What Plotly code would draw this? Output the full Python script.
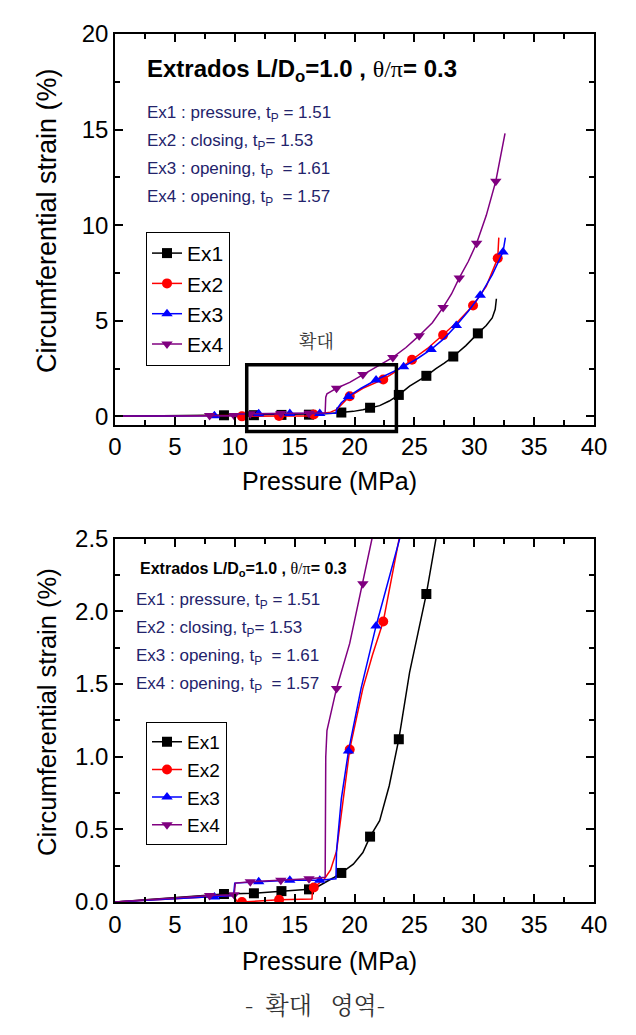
import plotly.graph_objects as go

# ---------------- data ----------------
series_names = ["Ex1", "Ex2", "Ex3", "Ex4"]
series_colors = ["#000000", "#ff0000", "#0000ff", "#800080"]
series_symbols = ["square", "circle", "triangle-up", "triangle-down"]

# continuous curves (pressure MPa, strain %)
ex1_line_x = [0, 9.1, 11.6, 13.9, 16.2, 16.8, 17.5, 18.2, 18.9, 19.9, 20.7, 21.3, 22.1, 22.9, 23.7,
              24.6, 25.3, 26.0, 26.8, 27.5, 28.25, 29.3, 30.3, 31.0, 31.5, 31.75, 31.85]
ex1_line_y = [0, 0.055, 0.06, 0.075, 0.087, 0.1, 0.13, 0.165, 0.2, 0.26, 0.34, 0.45, 0.56, 0.8, 1.12,
              1.58, 1.85, 2.12, 2.5, 2.78, 3.13, 3.7, 4.34, 4.75, 5.15, 5.6, 6.15]
ex1_mk_x = [9.1, 11.6, 13.9, 16.2, 18.9, 21.3, 23.7, 26.0, 28.25, 30.3]
ex1_mk_y = [0.055, 0.06, 0.075, 0.087, 0.2, 0.45, 1.12, 2.12, 3.13, 4.34]

ex2_line_x = [0, 9.9, 10.2, 10.6, 13.7, 16.45, 16.5, 16.6, 17.5, 18.0, 18.5, 18.9, 19.6, 20.7, 21.5,
              22.4, 23.2, 23.9, 24.8, 26.1, 27.4, 28.7, 29.9, 31.0, 31.96, 32.05]
ex2_line_y = [0, 0.045, 0.003, 0.0, 0.015, 0.02, 0.098, 0.1, 0.16, 0.22, 0.35, 0.6, 1.05, 1.47, 1.7,
              1.93, 2.25, 2.55, 2.96, 3.55, 4.25, 5.0, 5.8, 6.8, 8.27, 9.35]
ex2_mk_x = [10.6, 13.7, 16.6, 19.6, 22.4, 24.8, 27.4, 29.9, 31.96]
ex2_mk_y = [0.0, 0.015, 0.1, 1.05, 1.93, 2.96, 4.25, 5.8, 8.27]

ex3_line_x = [0, 8.3, 9.9, 10.0, 12.0, 14.6, 17.1, 18.45, 18.5, 18.9, 19.5, 20.55, 21.8, 22.9, 23.8,
              24.1, 25.2, 26.4, 27.5, 28.5, 29.5, 30.5, 31.5, 32.4, 32.6]
ex3_line_y = [0, 0.035, 0.045, 0.13, 0.14, 0.15, 0.15, 0.16, 0.35, 0.71, 1.04, 1.47, 1.9, 2.24, 2.5,
              2.6, 3.0, 3.5, 4.08, 4.75, 5.5, 6.33, 7.4, 8.6, 9.35]
ex3_mk_x = [8.3, 12.0, 14.6, 17.1, 19.5, 21.8, 24.1, 26.4, 28.5, 30.5, 32.4]
ex3_mk_y = [0.035, 0.14, 0.15, 0.15, 1.04, 1.9, 2.6, 3.5, 4.75, 6.33, 8.6]

ex4_line_x = [0, 7.9, 9.95, 10.05, 11.3, 13.85, 16.2, 17.55, 17.6, 17.7, 18.05, 18.5, 19.6, 20.7, 21.7,
              23.2, 24.3, 25.4, 26.5, 27.4, 28.1, 28.75, 29.5, 30.2, 31.0, 31.8, 32.57]
ex4_line_y = [0, 0.045, 0.05, 0.13, 0.14, 0.15, 0.16, 0.17, 1.0, 1.18, 1.31, 1.47, 1.78, 2.19, 2.55,
              3.08, 3.6, 4.22, 4.9, 5.7, 6.4, 7.24, 8.1, 9.05, 10.5, 12.3, 14.8]
ex4_mk_x = [7.9, 9.95, 11.3, 13.85, 16.2, 18.5, 20.7, 23.2, 25.4, 27.4, 28.75, 30.2, 31.8]
ex4_mk_y = [0.045, 0.05, 0.14, 0.15, 0.16, 1.47, 2.19, 3.08, 4.22, 5.7, 7.24, 9.05, 12.3]

line_x = [ex1_line_x, ex2_line_x, ex3_line_x, ex4_line_x]
line_y = [ex1_line_y, ex2_line_y, ex3_line_y, ex4_line_y]
mk_x = [ex1_mk_x, ex2_mk_x, ex3_mk_x, ex4_mk_x]
mk_y = [ex1_mk_y, ex2_mk_y, ex3_mk_y, ex4_mk_y]

x_ticks = [0, 5, 10, 15, 20, 25, 30, 35, 40]
y_ticks_top = [0, 5, 10, 15, 20]
y_ticks_bot = [0.0, 0.5, 1.0, 1.5, 2.0, 2.5]

title_text = "<b>Extrados L/D<sub>o</sub>=1.0 , </b><span style='font-family:Liberation Serif'>θ/π</span><b>= 0.3</b>"
case_lines = [
    "Ex1 : pressure, t<sub>P</sub> = 1.51",
    "Ex2 : closing, t<sub>P</sub>= 1.53",
    "Ex3 : opening, t<sub>P</sub>  = 1.61",
    "Ex4 : opening, t<sub>P</sub>  = 1.57",
]
zoom_box_x = [11.0, 23.5]

# ---------------- figure ----------------
FONT = "Liberation Sans, Arial, sans-serif"
OFF = 8                      # page body margin of the rendered html
W, H = 636 - OFF, 1035 - OFF
ML, MR, MT, MB = 115 - OFF, 42, 25 - OFF, 133
PH = H - MT - MB
def py(pix):  # page pixel (from top) -> paper y
    return (1035 - MB - pix) / PH
def px(pix):
    return (pix - 115) / (W - ML - MR)

fig = go.Figure()

for i, name in enumerate(series_names):
    for xa, ya, lg in (("x", "y", "legend"), ("x2", "y2", "legend2")):
        fig.add_trace(go.Scatter(x=line_x[i], y=line_y[i], mode="lines", xaxis=xa, yaxis=ya,
                                 line=dict(color=series_colors[i], width=1.5),
                                 showlegend=False, hoverinfo="skip"))
        fig.add_trace(go.Scatter(x=mk_x[i], y=mk_y[i], mode="markers", xaxis=xa, yaxis=ya,
                                 marker=dict(color=series_colors[i], symbol=series_symbols[i], size=10,
                                             line=dict(width=0)),
                                 showlegend=False))
        fig.add_trace(go.Scatter(x=[None], y=[None], mode="lines+markers", xaxis=xa, yaxis=ya,
                                 name=name, legend=lg,
                                 line=dict(color=series_colors[i], width=1.5),
                                 marker=dict(color=series_colors[i], symbol=series_symbols[i], size=10)))

axis_common = dict(showline=True, linecolor="black", linewidth=1.5, mirror="ticks",
                   ticks="inside", ticklen=8, tickwidth=1.5, tickcolor="black",
                   showgrid=False, zeroline=False,
                   tickfont=dict(family=FONT, size=24, color="black"))

fig.update_layout(
    width=W, height=H,
    margin=dict(l=ML, r=MR, t=MT, b=MB),
    paper_bgcolor="white", plot_bgcolor="white",
    font=dict(family=FONT, color="black"),
    xaxis=dict(domain=[0, 1], anchor="y", range=[0, 40], tickvals=x_ticks,
               minor=dict(ticks="inside", ticklen=5, tickcolor="black", dtick=2.5, tick0=0), **axis_common),
    yaxis=dict(domain=[py(420), 1], anchor="x", range=[-0.45, 20], tickvals=y_ticks_top,
               minor=dict(ticks="inside", ticklen=5, tickcolor="black", dtick=2.5, tick0=0), **axis_common),
    xaxis2=dict(domain=[0, 1], anchor="y2", range=[0, 40], tickvals=x_ticks,
                minor=dict(ticks="inside", ticklen=5, tickcolor="black", dtick=2.5, tick0=0), **axis_common),
    yaxis2=dict(domain=[0, py(535)], anchor="x2", range=[0, 2.5], tickvals=y_ticks_bot,
                tickformat=".1f",
                minor=dict(ticks="inside", ticklen=5, tickcolor="black", dtick=0.25, tick0=0), **axis_common),
    legend=dict(x=px(146), y=py(225), xanchor="left", yanchor="top",
                bordercolor="black", borderwidth=1, bgcolor="white",
                font=dict(family=FONT, size=21, color="black"), tracegroupgap=0),
    legend2=dict(x=px(146), y=py(720), xanchor="left", yanchor="top",
                 bordercolor="black", borderwidth=1, bgcolor="white",
                 font=dict(family=FONT, size=19, color="black"), tracegroupgap=0),
)

ann = []
# axis titles
for cy in (477, 962):
    ann.append(dict(text="Pressure (MPa)", x=px(329), y=py(cy), xref="paper", yref="paper",
                    showarrow=False, xanchor="center", yanchor="middle",
                    font=dict(family=FONT, size=25, color="black")))
for cy, fs in ((214, 27), (710, 25.5)):
    ann.append(dict(text="Circumferential strain (%)", x=px(47), y=py(cy), xref="paper", yref="paper",
                    showarrow=False, xanchor="center", yanchor="middle", textangle=-90,
                    font=dict(family=FONT, size=fs, color="black")))
# headers
ann.append(dict(text=title_text, x=px(145), y=py(62), xref="paper", yref="paper", showarrow=False,
                xanchor="left", yanchor="middle", font=dict(family=FONT, size=24, color="black")))
ann.append(dict(text=title_text, x=px(138), y=py(566), xref="paper", yref="paper", showarrow=False,
                xanchor="left", yanchor="middle", font=dict(family=FONT, size=16, color="black")))
for k, t in enumerate(case_lines):
    ann.append(dict(text=t, x=px(145), y=py(106 + 28.2 * k), xref="paper", yref="paper", showarrow=False,
                    xanchor="left", yanchor="middle", font=dict(family=FONT, size=17, color="#23236b")))
    ann.append(dict(text=t, x=px(134), y=py(597.5 + 28.3 * k), xref="paper", yref="paper", showarrow=False,
                    xanchor="left", yanchor="middle", font=dict(family=FONT, size=17, color="#23236b")))
# Korean labels
ann.append(dict(text="확대", x=px(316), y=py(334), xref="paper", yref="paper", showarrow=False,
                xanchor="center", yanchor="middle",
                font=dict(family="Noto Serif CJK KR, Noto Sans CJK KR", size=18, color="#333333")))
ann.append(dict(text="-  확대   영역-", x=px(315), y=py(1005), xref="paper", yref="paper", showarrow=False,
                xanchor="center", yanchor="middle",
                font=dict(family="Noto Serif CJK KR, Noto Sans CJK KR", size=24, color="#333333")))
fig.update_layout(annotations=ann)

# zoom window rectangle in the upper plot
fig.add_shape(type="rect", xref="x", yref="y domain", x0=zoom_box_x[0], x1=zoom_box_x[1],
              y0=-0.017, y1=0.154, line=dict(color="black", width=3.5), fillcolor="rgba(0,0,0,0)")

fig.write_html("out.html")
